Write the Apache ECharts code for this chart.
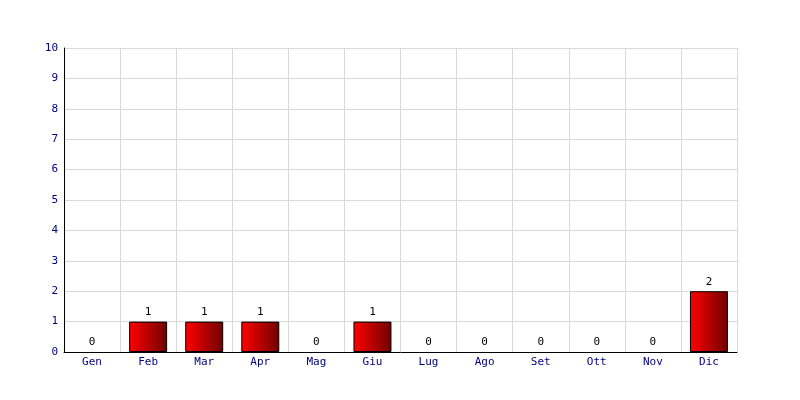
<!DOCTYPE html>
<html><head><meta charset="utf-8">
<script src="https://cdn.jsdelivr.net/npm/echarts@6/dist/echarts.min.js"></script>
<style>html,body{margin:0;padding:0;background:#fff}#c{width:800px;height:400px}</style>
</head><body><div id="c"></div>
<script>
const categories = ['Gen','Feb','Mar','Apr','Mag','Giu','Lug','Ago','Set','Ott','Nov','Dic'];
const values = [0,1,1,1,0,1,0,0,0,0,0,2];
const yMin = 0, yMax = 10, yStep = 1;

const chart = echarts.init(document.getElementById('c'), null, {renderer:'canvas'});
const font = '"DejaVu Sans Mono", monospace';
chart.setOption({
  animation: false,
  backgroundColor: '#fff',
  grid: {left: 64, right: 63, top: 48, bottom: 48},
  xAxis: {
    type: 'category', data: categories, boundaryGap: true,
    axisLine: {lineStyle: {color: '#000', width: 1}},
    axisTick: {show: false},
    axisLabel: {color: '#000080', fontFamily: font, fontSize: 11, margin: 5},
    splitLine: {show: true, lineStyle: {color: '#d9d9d9', width: 1}}
  },
  yAxis: {
    type: 'value', min: yMin, max: yMax, interval: yStep,
    axisLine: {show: true, lineStyle: {color: '#000', width: 1}},
    axisTick: {show: false},
    axisLabel: {color: '#000080', fontFamily: font, fontSize: 11, margin: 6},
    splitLine: {show: true, lineStyle: {color: '#d9d9d9', width: 1}}
  },
  series: [{
    type: 'bar', barWidth: 38,
    data: values.map(v => v === 0 ? {value: v, itemStyle: {borderWidth: 0, borderColor: 'transparent', color: 'transparent'}} : v),
    itemStyle: {
      borderColor: '#000', borderWidth: 1,
      color: new echarts.graphic.LinearGradient(0,0,1,0,[{offset:0,color:'#ff0000'},{offset:1,color:'#700000'}])
    },
    label: {show: true, position: 'top', color: '#000', fontFamily: font, fontSize: 11, distance: 4}
  }]
});
</script></body></html>
